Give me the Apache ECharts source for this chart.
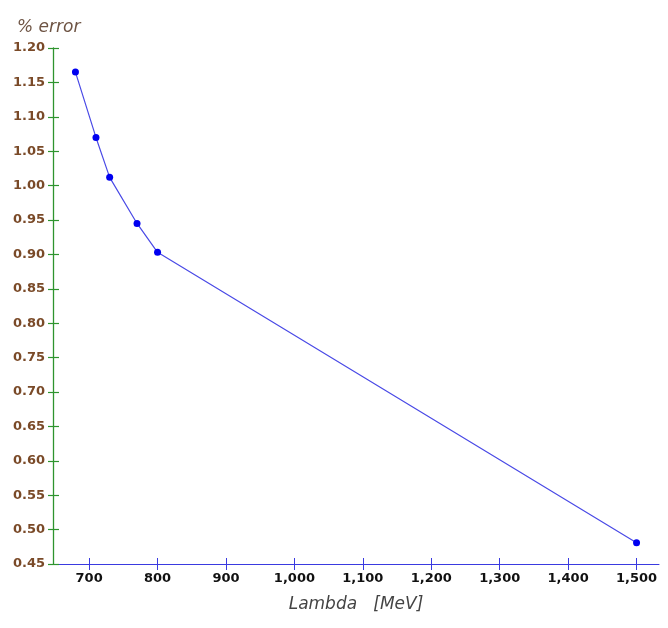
<!DOCTYPE html>
<html>
<head>
<meta charset="utf-8">
<script src="https://cdn.jsdelivr.net/npm/echarts@6/dist/echarts.min.js"></script>
<style>
  html, body { margin: 0; padding: 0; background: #fff; }
  #chart { width: 668px; height: 628px; }
</style>
</head>
<body>
<div id="chart"></div>
<script>
// data
const lambdaMeV = [680, 710, 730, 770, 800, 1500];
const errorPct = [1.165, 1.070, 1.012, 0.945, 0.903, 0.481];
const xTicks = [700, 800, 900, 1000, 1100, 1200, 1300, 1400, 1500];
const yTicks = [0.45, 0.50, 0.55, 0.60, 0.65, 0.70, 0.75, 0.80, 0.85, 0.90, 0.95, 1.00, 1.05, 1.10, 1.15, 1.20];

const chart = echarts.init(document.getElementById('chart'));

const xBase = {
  type: 'value',
  min: 647.2,
  max: 1532.8,
  splitLine: { show: false },
};
const yBase = {
  type: 'value',
  min: 0.45,
  max: 1.20,
  splitLine: { show: false },
};

chart.setOption({
  backgroundColor: '#fff',
  animation: false,
  title: {
    text: '% error',
    left: 12,
    top: 14,
    textStyle: {
      fontFamily: 'DejaVu Sans',
      fontStyle: 'italic',
      fontWeight: 'normal',
      fontSize: 17,
      color: '#6e5444',
    },
  },
  grid: {
    left: 53,
    right: 9,
    top: 48,
    bottom: 64,
    containLabel: false,
  },
  xAxis: [
    Object.assign({}, xBase, {
      name: 'Lambda   [MeV]',
      nameLocation: 'middle',
      nameGap: 32,
      nameTextStyle: {
        fontFamily: 'DejaVu Sans',
        fontStyle: 'italic',
        fontSize: 17,
        color: '#444',
      },
      axisLine: { show: true, lineStyle: { color: '#3a3ae0', width: 1 } },
      axisTick: { show: true, length: 6, customValues: xTicks, lineStyle: { color: '#3a3ae0' } },
      axisLabel: {
        customValues: xTicks,
        margin: 8,
        fontFamily: 'DejaVu Sans',
        fontWeight: 'bold',
        fontSize: 13,
        color: '#111',
        formatter: (v) => v.toLocaleString('en-US'),
      },
    }),
    // second axis only for the inner half of the crossing ticks
    Object.assign({}, xBase, {
      position: 'bottom',
      axisLine: { show: false },
      axisTick: { show: true, inside: true, length: 6, customValues: xTicks, lineStyle: { color: '#3a3ae0' } },
      axisLabel: { show: false },
    }),
  ],
  yAxis: [
    Object.assign({}, yBase, {
      axisLine: { show: true, lineStyle: { color: '#2e942e', width: 1.3 } },
      axisTick: { show: true, length: 5, customValues: yTicks, lineStyle: { color: '#2e942e', width: 1.2 } },
      axisLabel: {
        customValues: yTicks,
        margin: 8,
        fontFamily: 'DejaVu Sans',
        fontWeight: 'bold',
        fontSize: 13,
        color: '#7a4a28',
        formatter: (v) => v.toFixed(2),
      },
    }),
    Object.assign({}, yBase, {
      position: 'left',
      axisLine: { show: false },
      axisTick: { show: true, inside: true, length: 6, customValues: yTicks, lineStyle: { color: '#2e942e', width: 1.2 } },
      axisLabel: { show: false },
    }),
  ],
  series: [
    {
      name: '% error',
      type: 'line',
      xAxisIndex: 0,
      yAxisIndex: 0,
      data: lambdaMeV.map((x, i) => [x, errorPct[i]]),
      symbol: 'circle',
      symbolSize: 7,
      lineStyle: { color: '#4a4ae6', width: 1.2 },
      itemStyle: { color: '#0000f0' },
      z: 5,
    },
  ],
});
</script>
</body>
</html>
